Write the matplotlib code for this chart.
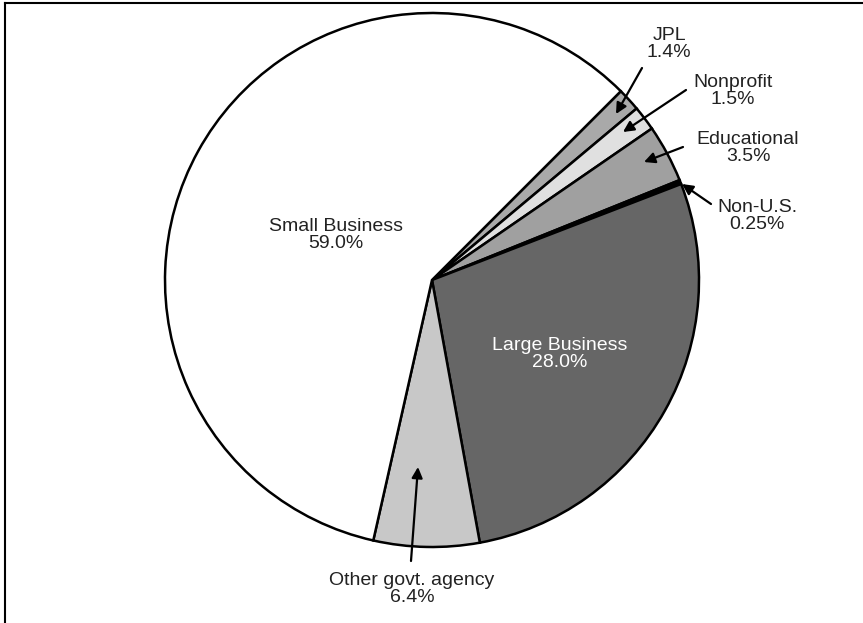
import matplotlib
matplotlib.use("Agg")
import matplotlib.pyplot as plt
from matplotlib.lines import Line2D

plt.rcParams['font.family'] = ['Liberation Sans', 'DejaVu Sans']

categories = ["JPL", "Nonprofit", "Educational", "Non-U.S.", "Large Business",
              "Other govt. agency", "Small Business"]
values = [1.4, 1.5, 3.5, 0.25, 28.0, 6.4, 59.0]
labels = ["JPL\n1.4%", "Nonprofit\n1.5%", "Educational\n3.5%", "Non-U.S.\n0.25%",
          "Large Business\n28.0%", "Other govt. agency\n6.4%", "Small Business\n59.0%"]
colors = ["#a9a9a9", "#e0e0e0", "#a0a0a0", "#000000", "#666666", "#c8c8c8", "#ffffff"]

W, H = 863, 623
fig = plt.figure(figsize=(W / 100, H / 100), dpi=100)
ax = fig.add_axes([0, 0, 1, 1])

cx, cy, r = 432, H - 280, 267
wedges, _ = ax.pie(values, colors=colors, startangle=45, counterclock=False,
                   center=(cx, cy), radius=r, frame=True,
                   wedgeprops=dict(edgecolor="black", linewidth=1.8))
ax.set_xlim(0, W)
ax.set_ylim(0, H)
ax.set_aspect('equal')
ax.axis('off')

fs = 14
ls = 1.05
# inner labels
ax.text(336, H - 235, labels[6], ha='center', va='center', fontsize=fs, color='#222222',
        linespacing=ls)
ax.text(560, H - 354, labels[4], ha='center', va='center', fontsize=fs, color='white',
        linespacing=ls)

ap = dict(arrowstyle='-|>', color='black', lw=1.6, mutation_scale=16, shrinkA=0, shrinkB=0)
# outer labels with arrows: (label index, text pos, arrow start, arrow tip)
outer = [
    (0, (669, 44), (642, 68), (616, 114)),
    (1, (733, 91), (686, 90), (623, 132)),
    (2, (748, 148), (683, 147), (644, 162)),
    (3, (757, 216), (711, 204), (682, 184)),
    (5, (412, 589), (411, 561), (418, 467)),
]
for idx, tpos, start, tip in outer:
    ax.text(tpos[0], H - tpos[1], labels[idx], ha='center', va='center', fontsize=fs,
            color='#222222', linespacing=ls)
    ax.annotate("", xy=(tip[0], H - tip[1]), xytext=(start[0], H - start[1]), arrowprops=ap)

# frame lines (left and top only)
fig.add_artist(Line2D([4.5 / W, 4.5 / W], [0, 1 - 2.5 / H], transform=fig.transFigure,
                      color='black', lw=1.5))
fig.add_artist(Line2D([4.5 / W, 1], [1 - 2.5 / H, 1 - 2.5 / H], transform=fig.transFigure,
                      color='black', lw=1.5))

fig.savefig("out.png", dpi=100)
